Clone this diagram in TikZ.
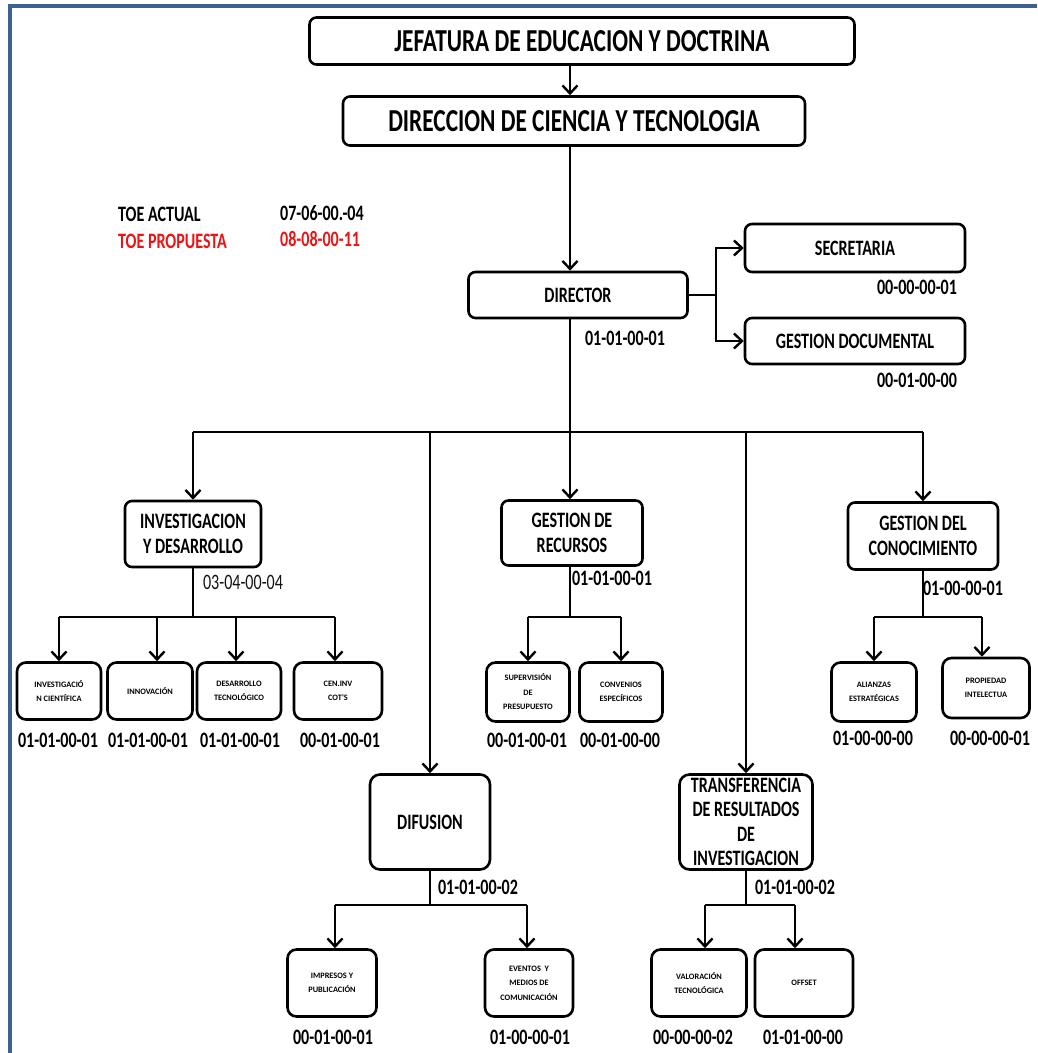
\documentclass[tikz,border=0pt]{standalone}
\usepackage{fontspec}
\setmainfont{Carlito}[FakeStretch=0.73]
\newfontfamily\leaffont{Carlito}
\usetikzlibrary{arrows.meta}
\definecolor{frameblue}{RGB}{60,98,148}
\definecolor{propred}{RGB}{235,20,20}
\begin{document}
\begin{tikzpicture}[x=1pt,y=-1pt,
  box/.style={draw, line width=2.6pt, rounded corners=7pt, inner sep=0pt, align=center,
    font=\bfseries\fontsize{22}{25.5}\selectfont},
  title/.style={box, font=\bfseries\fontsize{32}{34}\selectfont},
  leaf/.style={draw, line width=2.6pt, rounded corners=9pt, inner sep=0pt, align=center,
    font=\leaffont\bfseries\fontsize{8.3}{14.5}\selectfont},
  code/.style={font=\bfseries\fontsize{22}{24}\selectfont, inner sep=0pt},
  legend/.style={anchor=west, inner sep=0pt, font=\bfseries\fontsize{22}{24}\selectfont},
  conn/.style={line width=2.4pt},
  arr/.style={conn, -{Straight Barb[length=8pt,width=15pt]}}]
\useasboundingbox (0,0) rectangle (1037,1053);
% page frame
\draw[frameblue, line width=3.5pt] (10,1053) -- (10,6) -- (1037,6);

% top of the hierarchy
\node[title, minimum width=545, minimum height=47] (jef) at (582,41) {JEFATURA DE EDUCACION Y DOCTRINA};
\node[title, minimum width=462, minimum height=49] (dcyt) at (574,121) {DIRECCION DE CIENCIA Y TECNOLOGIA};
\coordinate (spine) at (570,0);

% TOE legend
\node[legend] (toea) at (118,214) {TOE ACTUAL};
\node[legend] (toeav) at (280,213) {07-06-00.-04};
\node[legend, text=propred] (toep) at (118,241) {TOE PROPUESTA};
\node[legend, text=propred] (toepv) at (280,239) {08-08-00-11};

% director and staff
\node[box, minimum width=219, minimum height=46] (director) at (578,295) {DIRECTOR};
\node[code] (cdirector) at (625,338) {01-01-00-01};
\node[box, minimum width=220, minimum height=48] (secr) at (855,248) {SECRETARIA};
\node[code] (csecr) at (917,287) {00-00-00-01};
\node[box, minimum width=220, minimum height=46] (gdoc) at (855,341) {GESTION DOCUMENTAL};
\node[code] (cgdoc) at (917,380) {00-01-00-00};

% second level
\node[box, minimum width=136, minimum height=66] (invest) at (193,534) {INVESTIGACION\\Y DESARROLLO};
\node[code, font=\fontsize{22}{24}\selectfont, text=black!92] (cinvest) at (243,582) {03-04-00-04};
\node[box, minimum width=141, minimum height=65] (grec) at (572,533) {GESTION DE\\RECURSOS};
\node[code] (cgrec) at (612,578) {01-01-00-01};
\node[box, minimum width=150, minimum height=67] (gcon) at (923,536) {GESTION DEL\\CONOCIMIENTO};
\node[code] (cgcon) at (963,588) {01-00-00-01};
\node[box, rounded corners=10pt, minimum width=120, minimum height=95] (difu) at (430,822) {DIFUSION};
\node[code] (cdifu) at (478,887) {01-01-00-02};
\node[box, rounded corners=10pt, minimum width=133, minimum height=95, font=\bfseries\fontsize{22}{24.5}\selectfont] (transf) at (746,822) {TRANSFERENCIA\\DE RESULTADOS\\DE\\INVESTIGACION};
\node[code] (ctransf) at (795,887) {01-01-00-02};

% research and development units
\node[leaf, minimum width=84, minimum height=57] (l1) at (59,691) {INVESTIGACIÓ\\N CIENTÍFICA};
\node[leaf, minimum width=85, minimum height=57] (l2) at (150,691) {INNOVACIÓN};
\node[leaf, minimum width=84, minimum height=57] (l3) at (239,691) {DESARROLLO\\TECNOLÓGICO};
\node[leaf, minimum width=88, minimum height=57] (l4) at (338,691) {CEN.INV\\COT'S};
\node[code] (cl1) at (58,740) {01-01-00-01};
\node[code] (cl2) at (148,740) {01-01-00-01};
\node[code] (cl3) at (240,740) {01-01-00-01};
\node[code] (cl4) at (340,740) {00-01-00-01};

% resource management units
\node[leaf, minimum width=83, minimum height=59] (r1) at (528,692) {SUPERVISIÓN\\DE\\PRESUPUESTO};
\node[leaf, minimum width=83, minimum height=59] (r2) at (621,692) {CONVENIOS\\ESPECÍFICOS};
\node[code] (cr1) at (527,740) {00-01-00-01};
\node[code] (cr2) at (620,740) {00-01-00-00};

% knowledge management units
\node[leaf, minimum width=85, minimum height=59] (k1) at (874,692) {ALIANZAS\\ESTRATÉGICAS};
\node[leaf, minimum width=87, minimum height=60] (k2) at (986,688) {PROPIEDAD\\INTELECTUA};
\node[code] (ck1) at (873,738) {01-00-00-00};
\node[code] (ck2) at (990,738) {00-00-00-01};

% dissemination units
\node[leaf, minimum width=89, minimum height=67] (d1) at (332,983) {IMPRESOS Y\\PUBLICACIÓN};
\node[leaf, minimum width=88, minimum height=67] (d2) at (529,983) {EVENTOS\ \ Y\\MEDIOS DE\\COMUNICACIÓN};
\node[code] (cd1) at (333,1037) {00-01-00-01};
\node[code] (cd2) at (530,1037) {01-00-00-01};

% transfer units
\node[leaf, minimum width=95, minimum height=67] (t1) at (699,983) {VALORACIÓN\\TECNOLÓGICA};
\node[leaf, minimum width=98, minimum height=67] (t2) at (804,983) {OFFSET};
\node[code] (ct1) at (693,1037) {00-00-00-02};
\node[code] (ct2) at (803,1037) {01-01-00-00};

% connectors: top chain
\draw[arr] (spine |- jef.south) -- (spine |- dcyt.north);
\draw[arr] (spine |- dcyt.south) -- (spine |- director.north);
\coordinate (fork) at (716,295);
\draw[conn] (director.east) -- (fork);
\draw[arr] (fork) |- (secr.west);
\draw[arr] (fork) |- (gdoc.west);

% connectors: main bus
\coordinate (bus) at (570,432);
\draw[conn] (spine |- director.south) -- (bus);
\draw[conn] (invest.north |- bus) -- (gcon.north |- bus);
\draw[arr] (invest.north |- bus) -- (invest.north);
\draw[arr] (difu.north |- bus) -- (difu.north);
\draw[arr] (bus) -- (spine |- grec.north);
\draw[arr] (transf.north |- bus) -- (transf.north);
\draw[arr] (gcon.north |- bus) -- (gcon.north);

% connectors: sub-buses (drop points sit slightly off the box centres)
\coordinate (ibus) at (0,617);
\draw[conn] (invest.south) -- (invest.south |- ibus);
\draw[conn] (l1.north |- ibus) -- ([xshift=-3pt]l4.north |- ibus);
\draw[arr] (l1.north |- ibus) -- (l1.north);
\draw[arr] ([xshift=7pt]l2.north |- ibus) -- ([xshift=7pt]l2.north);
\draw[arr] ([xshift=-3pt]l3.north |- ibus) -- ([xshift=-3pt]l3.north);
\draw[arr] ([xshift=-3pt]l4.north |- ibus) -- ([xshift=-3pt]l4.north);
\draw[conn] (spine |- grec.south) -- (spine |- ibus);
\draw[conn] (r1.north |- ibus) -- (r2.north |- ibus);
\foreach \n in {r1,r2} \draw[arr] (\n.north |- ibus) -- (\n.north);
\draw[conn] (gcon.south) -- (gcon.south |- ibus);
\draw[conn] (k1.north |- ibus) -- ([xshift=-4pt]k2.north |- ibus);
\draw[arr] (k1.north |- ibus) -- (k1.north);
\draw[arr] ([xshift=-4pt]k2.north |- ibus) -- ([xshift=-4pt]k2.north);

\coordinate (lbus) at (0,905);
\draw[conn] (difu.south) -- (difu.south |- lbus);
\draw[conn] ([xshift=3pt]d1.north |- lbus) -- ([xshift=-2pt]d2.north |- lbus);
\draw[arr] ([xshift=3pt]d1.north |- lbus) -- ([xshift=3pt]d1.north);
\draw[arr] ([xshift=-2pt]d2.north |- lbus) -- ([xshift=-2pt]d2.north);
\draw[conn] (transf.south) -- (transf.south |- lbus);
\draw[conn] ([xshift=6pt]t1.north |- lbus) -- ([xshift=-9pt]t2.north |- lbus);
\draw[arr] ([xshift=6pt]t1.north |- lbus) -- ([xshift=6pt]t1.north);
\draw[arr] ([xshift=-9pt]t2.north |- lbus) -- ([xshift=-9pt]t2.north);
\end{tikzpicture}
\end{document}
